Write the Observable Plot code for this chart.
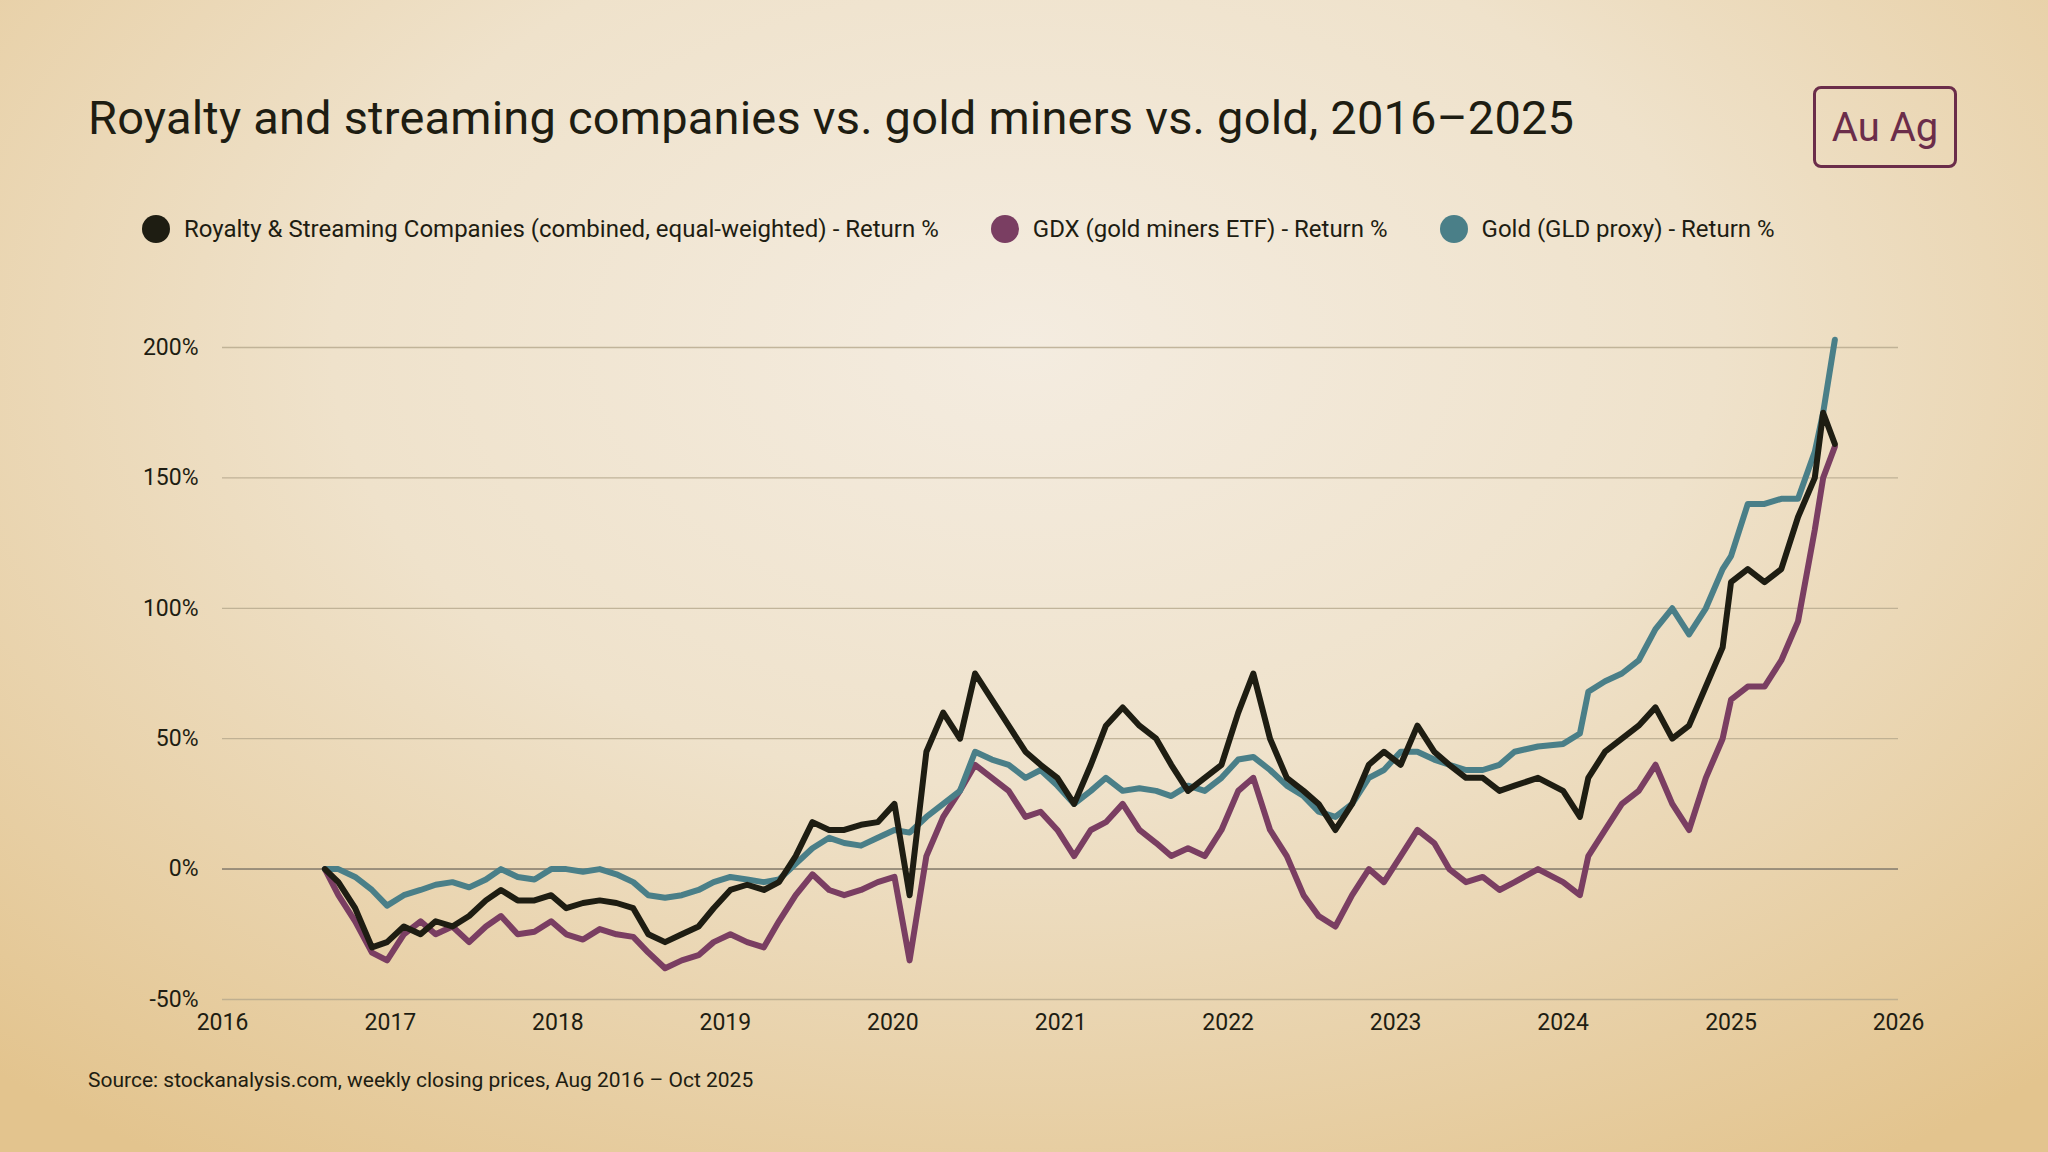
<!DOCTYPE html>
<html><head><meta charset="utf-8">
<script src="https://cdn.jsdelivr.net/npm/d3@7"></script>
<script src="https://cdn.jsdelivr.net/npm/@observablehq/plot@0.6"></script>
<style>
html,body{margin:0;padding:0;width:2048px;height:1152px;overflow:hidden;font-family:Roboto,"Noto Sans",sans-serif;}
body{background:radial-gradient(ellipse 75% 85% at 50% 30%, #f4ece0 0%, #efe2cb 45%, #e3c48e 100%);position:relative;color:#1e1d12;}
#title{position:absolute;left:88px;top:90px;font-size:47px;font-weight:400;letter-spacing:0.2px;}
#legend{position:absolute;left:142px;top:215px;font-size:24px;display:flex;gap:0;}
.li{display:flex;align-items:center;margin-right:52px;}
.sw{width:28px;height:28px;border-radius:50%;margin-right:14px;}
#logo{position:absolute;left:1813px;top:86px;width:144px;height:82px;border:3px solid #6b2d4a;border-radius:8px;color:#6b2d4a;font-size:40px;display:flex;align-items:center;justify-content:center;box-sizing:border-box;}
#chart{position:absolute;left:0;top:300px;}
#source{position:absolute;left:88px;top:1068px;font-size:21px;}
</style></head><body>
<div id="title">Royalty and streaming companies vs. gold miners vs. gold, 2016–2025</div>
<div id="logo">Au&nbsp;Ag</div>
<div id="legend"></div>
<div id="chart"></div>
<div id="source">Source: stockanalysis.com, weekly closing prices, Aug 2016 – Oct 2025</div>
<script>
const seriesNames = ["Royalty & Streaming Companies (combined, equal-weighted) - Return %","GDX (gold miners ETF) - Return %","Gold (GLD proxy) - Return %"];
const colors = ["#1e1d12","#7a3e62","#4a7f88"];
// positions as fractional years
const times = [2016.61,2016.69,2016.79,2016.89,2016.98,2017.08,2017.18,2017.27,2017.37,2017.47,2017.57,2017.66,2017.76,2017.86,2017.96,2018.05,2018.15,2018.25,2018.35,2018.45,2018.54,2018.64,2018.74,2018.84,2018.93,2019.03,2019.13,2019.23,2019.32,2019.42,2019.52,2019.62,2019.71,2019.81,2019.91,2020.01,2020.1,2020.2,2020.3,2020.4,2020.49,2020.59,2020.69,2020.79,2020.88,2020.98,2021.08,2021.18,2021.27,2021.37,2021.47,2021.57,2021.66,2021.76,2021.86,2021.96,2022.06,2022.15,2022.25,2022.35,2022.45,2022.54,2022.64,2022.74,2022.84,2022.93,2023.03,2023.13,2023.23,2023.32,2023.42,2023.52,2023.62,2023.71,
  2023.85,2024.0,2024.1,2024.15,2024.25,2024.35,2024.45,2024.55,2024.65,2024.75,2024.85,2024.95,2025.0,2025.1,2025.2,2025.3,2025.4,2025.5,2025.55,2025.62];
const royalty = [0,-5,-15,-30,-28,-22,-25,-20,-22,-18,-12,-8,-12,-12,-10,-15,-13,-12,-13,-15,-25,-28,-25,-22,-15,-8,-6,-8,-5,5,18,15,15,17,18,25,-10,45,60,50,75,65,55,45,40,35,25,40,55,62,55,50,40,30,35,40,60,75,50,35,30,25,15,25,40,45,40,55,45,40,35,35,30,32,
  35,30,20,35,45,50,55,62,50,55,70,85,110,115,110,115,135,150,175,163];
const gdx = [0,-10,-20,-32,-35,-25,-20,-25,-22,-28,-22,-18,-25,-24,-20,-25,-27,-23,-25,-26,-32,-38,-35,-33,-28,-25,-28,-30,-20,-10,-2,-8,-10,-8,-5,-3,-35,5,20,30,40,35,30,20,22,15,5,15,18,25,15,10,5,8,5,15,30,35,15,5,-10,-18,-22,-10,0,-5,5,15,10,0,-5,-3,-8,-5,
  0,-5,-10,5,15,25,30,40,25,15,35,50,65,70,70,80,95,130,150,162];
const gold = [0,0,-3,-8,-14,-10,-8,-6,-5,-7,-4,0,-3,-4,0,0,-1,0,-2,-5,-10,-11,-10,-8,-5,-3,-4,-5,-4,2,8,12,10,9,12,15,14,20,25,30,45,42,40,35,38,32,25,30,35,30,31,30,28,32,30,35,42,43,38,32,28,22,20,25,35,38,45,45,42,40,38,38,40,45,
  47,48,52,68,72,75,80,92,100,90,100,115,120,140,140,142,142,160,175,203];
const yTicks = [-50,0,50,100,150,200];

const toDate = t => { const y = Math.floor(t); const s = new Date(y,0,1), e = new Date(y+1,0,1); return new Date(+s + (t-y)*(e-s)); };
const rows = [];
[[gdx,1],[gold,2],[royalty,0]].forEach(([arr,i]) => arr.forEach((v,j)=>rows.push({date:toDate(times[j]),value:v,series:seriesNames[i],order:i})));

const leg = document.getElementById("legend");
seriesNames.forEach((n,i)=>{leg.insertAdjacentHTML("beforeend",`<div class="li"><div class="sw" style="background:${colors[i]}"></div><span>${n}</span></div>`);});

const chart = Plot.plot({
  width: 2048, height: 760,
  marginLeft: 222, marginRight: 150, marginTop: 47, marginBottom: 61,
  style: {background: "transparent", fontSize: "23px", fontFamily: "Roboto, sans-serif", color: "#1e1d12"},
  x: {type: "time", domain: [new Date(2016,0,1), new Date(2026,0,1)], ticks: d3.timeYear.every(1), tickFormat: d3.timeFormat("%Y"), label: null, tickSize: 0, tickPadding: 14},
  y: {domain: [-50, 200], ticks: yTicks, tickFormat: d => d + "%", label: null, tickSize: 0, tickPadding: 24},
  color: {domain: seriesNames, range: colors},
  marks: [
    Plot.gridY(yTicks, {stroke: "#b5a78c", strokeOpacity: 0.8, strokeWidth: 1.3}),
    Plot.ruleY([0], {stroke: "#8a8170", strokeWidth: 1.5}),
    Plot.line(rows.filter(r=>r.order===1), {x: "date", y: "value", stroke: "series", strokeWidth: 6}),
    Plot.line(rows.filter(r=>r.order===2), {x: "date", y: "value", stroke: "series", strokeWidth: 6}),
    Plot.line(rows.filter(r=>r.order===0), {x: "date", y: "value", stroke: "series", strokeWidth: 6})
  ]
});
document.getElementById("chart").appendChild(chart);
</script>
</body></html>
